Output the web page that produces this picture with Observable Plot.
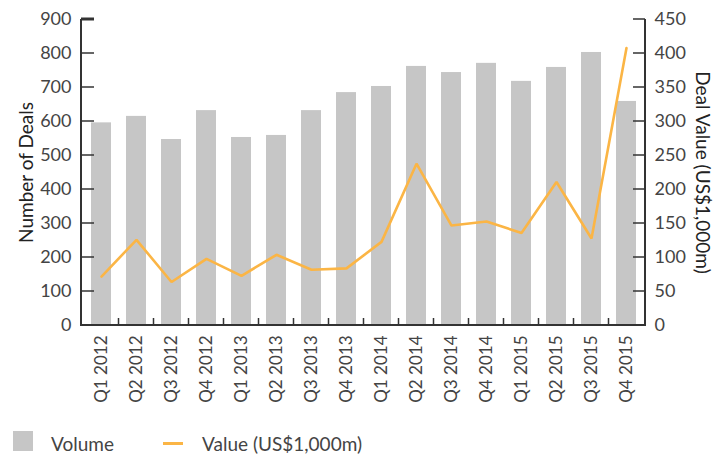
<!DOCTYPE html>
<html>
<head>
<meta charset="utf-8">
<script src="https://cdn.jsdelivr.net/npm/d3@7"></script>
<script src="https://cdn.jsdelivr.net/npm/@observablehq/plot@0.6"></script>
<style>
  html, body { margin: 0; padding: 0; background: #fff; }
  body { width: 724px; height: 454px; overflow: hidden; font-family: Lato, "Open Sans", sans-serif; font-weight: 400; color: #444; }
  #chart svg { display: block; }
  #legend { position: relative; height: 44px; font-size: 19px; }
  .sw-bar { position: absolute; left: 13px; top: 21px; width: 20px; height: 20px; background: #c6c6c6; }
  .sw-line { position: absolute; left: 163px; top: 32px; width: 20px; height: 2.5px; background: #fbb545; }
  .lab { position: absolute; top: 22px; line-height: 24px; }
</style>
</head>
<body>
<div id="chart"></div>
<div id="legend">
  <div class="sw-bar"></div><div class="lab" style="left:51px">Volume</div>
  <div class="sw-line"></div><div class="lab" style="left:202px">Value (US$1,000m)</div>
</div>
<script>
const categories = ["Q1 2012","Q2 2012","Q3 2012","Q4 2012","Q1 2013","Q2 2013","Q3 2013","Q4 2013",
                    "Q1 2014","Q2 2014","Q3 2014","Q4 2014","Q1 2015","Q2 2015","Q3 2015","Q4 2015"];
const volume = [596, 615, 547, 632, 553, 559, 632, 685, 703, 762, 744, 771, 718, 759, 803, 659];
const value  = [72, 126, 64, 98, 73, 104, 82, 84, 123, 238, 147, 153, 136, 211, 128, 408];
const leftTicks = [0, 100, 200, 300, 400, 500, 600, 700, 800, 900];
const rightTicks = [0, 50, 100, 150, 200, 250, 300, 350, 400, 450];
const leftLabel = "Number of Deals";
const rightLabel = "Deal Value (US$1,000m)";

const ratio = 2; // right axis (0–450) maps onto left axis (0–900)
const data = categories.map((q, i) => ({q, volume: volume[i], value: value[i]}));

const axisColor = "#333";
const textColor = "#444";
const fs = 18;

function axesLines(index, scales, values, dim) {
  const {x, y} = scales;
  const g = d3.create("svg:g").attr("stroke", axisColor).attr("fill", "none");
  const L = dim.marginLeft, R = dim.width - dim.marginRight;
  const y0 = y(0), yTop = y(leftTicks[leftTicks.length - 1]);
  g.append("line").attr("x1", L).attr("x2", L).attr("y1", yTop).attr("y2", y0 + 1).attr("stroke-width", 2);
  g.append("line").attr("x1", R).attr("x2", R).attr("y1", yTop).attr("y2", y0 + 1).attr("stroke-width", 2);
  g.append("line").attr("x1", L).attr("x2", R).attr("y1", y0).attr("y2", y0).attr("stroke-width", 2);
  for (const t of leftTicks) {
    g.append("line").attr("x1", L).attr("x2", L + 13).attr("y1", y(t)).attr("y2", y(t))
      .attr("stroke-width", t === leftTicks[leftTicks.length - 1] ? 3 : 1.5);
  }
  for (const t of rightTicks) {
    g.append("line").attr("x1", R - 12).attr("x2", R).attr("y1", y(t * ratio)).attr("y2", y(t * ratio))
      .attr("stroke-width", 1.5);
  }
  const step = x(categories[1]) - x(categories[0]);
  const bw = x.bandwidth ? x.bandwidth() : step * 0.57;
  for (let i = 1; i < categories.length; i++) {
    const bx = x(categories[i]) - (step - bw) / 2;
    g.append("line").attr("x1", bx).attr("x2", bx).attr("y1", y0 - 7).attr("y2", y0).attr("stroke-width", 1.5);
  }
  return g.node();
}

const chart = Plot.plot({
  width: 724,
  height: 410,
  marginTop: 19,
  marginBottom: 85,
  marginLeft: 81,
  marginRight: 79,
  style: {fontFamily: "Lato, 'Open Sans', sans-serif", fontWeight: 400, fontSize: fs + "px", color: textColor, background: "#fff"},
  x: {type: "band", domain: categories, paddingInner: 0.43, paddingOuter: 0.215, axis: null},
  y: {domain: [0, 900], axis: null},
  marks: [
    Plot.barY(data, {x: "q", y: "volume", fill: "#c6c6c6"}),
    Plot.lineY(data, {x: "q", y: d => d.value * ratio, stroke: "#fbb545", strokeWidth: 2.6, strokeLinejoin: "miter"}),
    axesLines,
    Plot.axisY(leftTicks, {anchor: "left", tickSize: 0, tickPadding: 10, label: null, fill: textColor, fontSize: fs}),
    Plot.axisY(rightTicks.map(t => t * ratio), {anchor: "right", tickSize: 0, tickPadding: 9, label: null,
      tickFormat: d => String(d / ratio), fill: textColor, fontSize: fs}),
    Plot.axisX(categories, {anchor: "bottom", tickSize: 0, tickPadding: 10, tickRotate: -90, label: null, fill: textColor, fontSize: 17}),
    Plot.text([leftLabel], {text: d => d, frameAnchor: "left", textAnchor: "middle", rotate: -90, dx: -55, fill: "#222", fontSize: 19}),
    Plot.text([rightLabel], {text: d => d, frameAnchor: "right", textAnchor: "middle", rotate: 90, dx: 57, fill: "#222", fontSize: 19})
  ]
});
document.getElementById("chart").appendChild(chart);
</script>
</body>
</html>
